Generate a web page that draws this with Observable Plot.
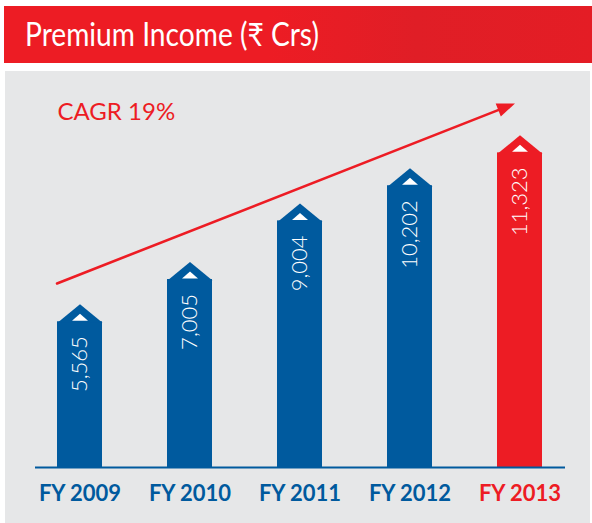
<!DOCTYPE html>
<html>
<head>
<meta charset="utf-8">
<script src="https://cdn.jsdelivr.net/npm/d3@7"></script>
<script src="https://cdn.jsdelivr.net/npm/@observablehq/plot@0.6"></script>
<style>
  html, body { margin: 0; padding: 0; background: #ffffff; }
  body { width: 592px; height: 523px; position: relative; overflow: hidden; font-family: Lato, "Noto Sans", sans-serif; }
  #header { position: absolute; left: 4px; top: 6px; width: 588px; height: 57px;
    background: linear-gradient(90deg, #ed1c24 0%, #ed1c24 45%, #e01e26 70%, #e41d25 100%); }
  #title { position: absolute; left: 21px; top: 10px; color: #ffffff; font-size: 32px; line-height: 36px; white-space: nowrap;
    transform: scaleX(0.88); transform-origin: 0 0; }
  #panel { position: absolute; left: 5px; top: 71px; width: 585px; height: 452px; background: #e6e7e8; }
</style>
</head>
<body>
<div id="header"><div id="title">Premium Income (₹ Crs)</div></div>
<div id="panel"></div>
<script>
const categories = ["FY 2009", "FY 2010", "FY 2011", "FY 2012", "FY 2013"];
const values = [5565, 7005, 9004, 10202, 11323];
const valueLabels = ["5,565", "7,005", "9,004", "10,202", "11,323"];
const highlightCategory = "FY 2013";
const cagrLabel = "CAGR 19%";
const trendStartValue = 6515;
const trendEndValue = 12409;

const BLUE = "#005a9e";
const RED = "#ed1c24";

const data = categories.map((c, i) => ({
  cat: c, value: values[i], label: valueLabels[i],
  group: c === highlightCategory ? "highlight" : "base"
}));

const headSymbol = { draw(ctx) { ctx.moveTo(0, 0); ctx.lineTo(22.5, 18.5); ctx.lineTo(-22.5, 18.5); ctx.closePath(); } };
const notchSymbol = { draw(ctx) { ctx.moveTo(0, 9.5); ctx.lineTo(8, 16.5); ctx.lineTo(-8, 16.5); ctx.closePath(); } };
const arrowHeadSymbol = { draw(ctx) { ctx.moveTo(0, 0); ctx.lineTo(7, 18); ctx.lineTo(-7, 18); ctx.closePath(); } };

const trend = [{x1: categories[0], y1: trendStartValue, x2: categories[categories.length - 1], y2: trendEndValue}];

const chart = Plot.plot({
  width: 585,
  height: 452,
  marginLeft: 30,
  marginRight: 25,
  marginTop: 44,
  marginBottom: 56,
  style: { background: "transparent", overflow: "visible" },
  x: { domain: categories, axis: null, paddingInner: 0.59, paddingOuter: 0.2 },
  y: { domain: [0, 12000], axis: null },
  color: { domain: ["base", "highlight"], range: [BLUE, RED] },
  marks: [
    Plot.barY(data, { x: "cat", y: "value", fill: "group", insetTop: 17.5 }),
    Plot.dot(data, { x: "cat", y: "value", fill: "group", symbol: headSymbol, r: 5, stroke: null }),
    Plot.dot(data, { x: "cat", y: "value", fill: "#ffffff", symbol: notchSymbol, r: 5, stroke: null }),
    Plot.text(data, { x: "cat", y: "value", text: "label", rotate: -90, textAnchor: "end", dy: 32,
      fill: "#ffffff", fontSize: 22, fontWeight: 300, fontFamily: "Lato, 'Noto Sans', sans-serif" }),
    Plot.ruleY([0], { stroke: BLUE, strokeWidth: 2 }),
    Plot.text(data, { x: "cat", y: () => 0, text: "cat", dy: 26, fill: "group",
      fontSize: 22, fontWeight: "bold", fontFamily: "Lato, 'Noto Sans', sans-serif" }),
    Plot.arrow(trend, { x1: "x1", y1: "y1", x2: "x2", y2: "y2", dx: -5, stroke: RED, strokeWidth: 2.6,
      headLength: 0, insetStart: -19.3, insetEnd: 12 }),
    Plot.dot(trend, { x: "x2", y: "y2", dx: -5, symbol: arrowHeadSymbol, fill: RED, stroke: null, r: 5, rotate: 68.5 }),
    Plot.text([cagrLabel], { frameAnchor: "top-left", dx: 22, dy: 4, lineAnchor: "bottom", textAnchor: "start",
      fill: RED, fontSize: 24, fontFamily: "Lato, 'Noto Sans', sans-serif" })
  ]
});
document.getElementById("panel").appendChild(chart);
</script>
</body>
</html>
